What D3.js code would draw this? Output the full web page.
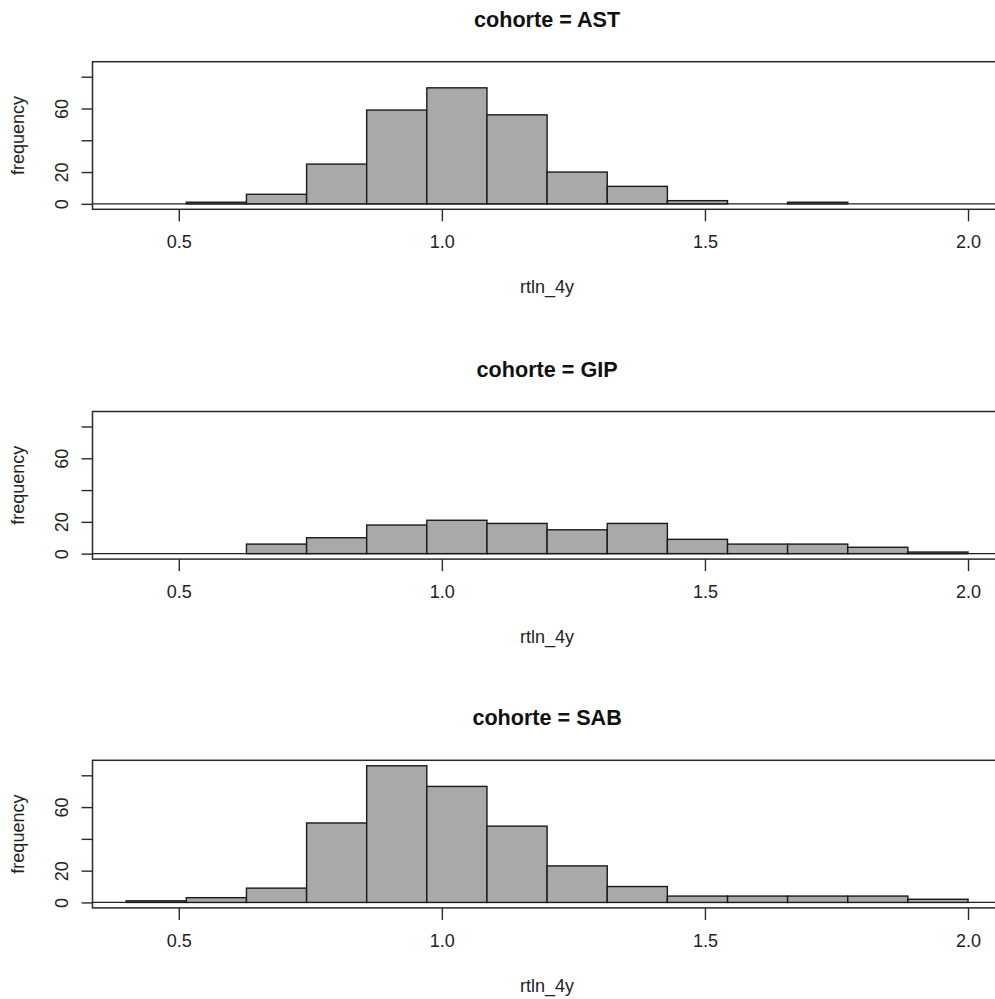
<!DOCTYPE html>
<html>
<head>
<meta charset="utf-8">
<script src="https://cdn.jsdelivr.net/npm/d3@7"></script>
<style>
  body { margin: 0; background: #fff; }
  svg { display: block; font-family: "Liberation Sans", Arial, sans-serif; }
</style>
</head>
<body>
<svg width="995" height="999"></svg>
<script>
// histogram breaks (14 bins between 0.4 and 2.0)
var breaks = [0.4, 0.5143, 0.6286, 0.7429, 0.8571, 0.9714, 1.0857, 1.2, 1.3143, 1.4286, 1.5429, 1.6571, 1.7714, 1.8857, 2.0];
var cohorts = ["AST", "GIP", "SAB"];
var countsAST = [0, 1, 6, 25, 59, 73, 56, 20, 11, 2, 0, 1, 0, 0];
var countsGIP = [0, 0, 6, 10, 18, 21, 19, 15, 19, 9, 6, 6, 4, 1];
var countsSAB = [1, 3, 9, 50, 86, 73, 48, 23, 10, 4, 4, 4, 4, 2];
var xTicks = [0.5, 1.0, 1.5, 2.0];
var yTicks = [0, 20, 40, 60, 80];
var yTickLabels = ["0", "20", "", "60", ""];

var allCounts = [countsAST, countsGIP, countsSAB];

var svg = d3.select("svg");
var left = 92.5, right = 1001.7;
var panelTop = [61.7, 411.5, 760.3];
var panelH = 147.6;

// R style 4% padding on both axes
var xmin = 0.4, xmax = 2.0, xpad = (xmax - xmin) * 0.04;
var x = d3.scaleLinear().domain([xmin - xpad, xmax + xpad]).range([left, right]);
var ymax = 86, ypad = ymax * 0.04;

cohorts.forEach(function(name, p) {
    var top = panelTop[p], bottom = top + panelH;
    var y = d3.scaleLinear().domain([-ypad, ymax + ypad]).range([bottom, top]);
    var g = svg.append("g");

    var bins = allCounts[p].map(function(c, i) {
        return {x0: breaks[i], x1: breaks[i + 1], n: c};
    });

    // zero line across the plot
    g.append("line")
        .attr("x1", left).attr("x2", right)
        .attr("y1", y(0)).attr("y2", y(0))
        .attr("stroke", "#222").attr("stroke-width", 1.3);

    // bars
    g.selectAll("rect.bar").data(bins).enter().append("rect")
        .attr("class", "bar")
        .attr("x", function(d) { return x(d.x0); })
        .attr("y", function(d) { return y(d.n); })
        .attr("width", function(d) { return x(d.x1) - x(d.x0); })
        .attr("height", function(d) { return y(0) - y(d.n); })
        .attr("fill", "#a9a9a9")
        .attr("stroke", "#1a1a1a")
        .attr("stroke-width", 1.4);

    // box
    g.append("rect")
        .attr("x", left).attr("y", top)
        .attr("width", right - left).attr("height", panelH)
        .attr("fill", "none").attr("stroke", "#2a2a2a").attr("stroke-width", 1.5);

    // x axis
    var xaxis = d3.axisBottom(x).tickValues(xTicks).tickFormat(d3.format(".1f"))
        .tickSize(12).tickPadding(14);
    var gx = g.append("g").attr("transform", "translate(0," + bottom + ")").call(xaxis);
    gx.select(".domain").remove();
    gx.selectAll("line").attr("stroke", "#2a2a2a").attr("stroke-width", 1.4);
    gx.selectAll("text").attr("font-size", 18).attr("fill", "#222")
        .attr("font-family", "Liberation Sans, Arial, sans-serif");

    // y axis with rotated labels
    var yaxis = d3.axisLeft(y).tickValues(yTicks)
        .tickFormat(function(d, i) { return yTickLabels[i]; })
        .tickSize(11);
    var gy = g.append("g").attr("transform", "translate(" + left + ",0)").call(yaxis);
    gy.select(".domain").remove();
    gy.selectAll("line").attr("stroke", "#2a2a2a").attr("stroke-width", 1.4);
    gy.selectAll("text")
        .attr("x", null).attr("dy", null)
        .attr("transform", "translate(-24.5,0) rotate(-90)")
        .attr("text-anchor", "middle")
        .attr("font-size", 18).attr("fill", "#222")
        .attr("font-family", "Liberation Sans, Arial, sans-serif");

    // title
    svg.append("text")
        .attr("x", (left + right) / 2).attr("y", top - 35)
        .attr("text-anchor", "middle")
        .attr("font-size", 21.6).attr("font-weight", "bold").attr("fill", "#111")
        .text("cohorte = " + name);

    // x label
    svg.append("text")
        .attr("x", (left + right) / 2).attr("y", bottom + 84)
        .attr("text-anchor", "middle")
        .attr("font-size", 18).attr("fill", "#222")
        .text("rtln_4y");

    // y label
    svg.append("text")
        .attr("transform", "translate(24," + (top + panelH / 2) + ") rotate(-90)")
        .attr("text-anchor", "middle")
        .attr("font-size", 18).attr("fill", "#222")
        .text("frequency");
});
</script>
</body>
</html>
